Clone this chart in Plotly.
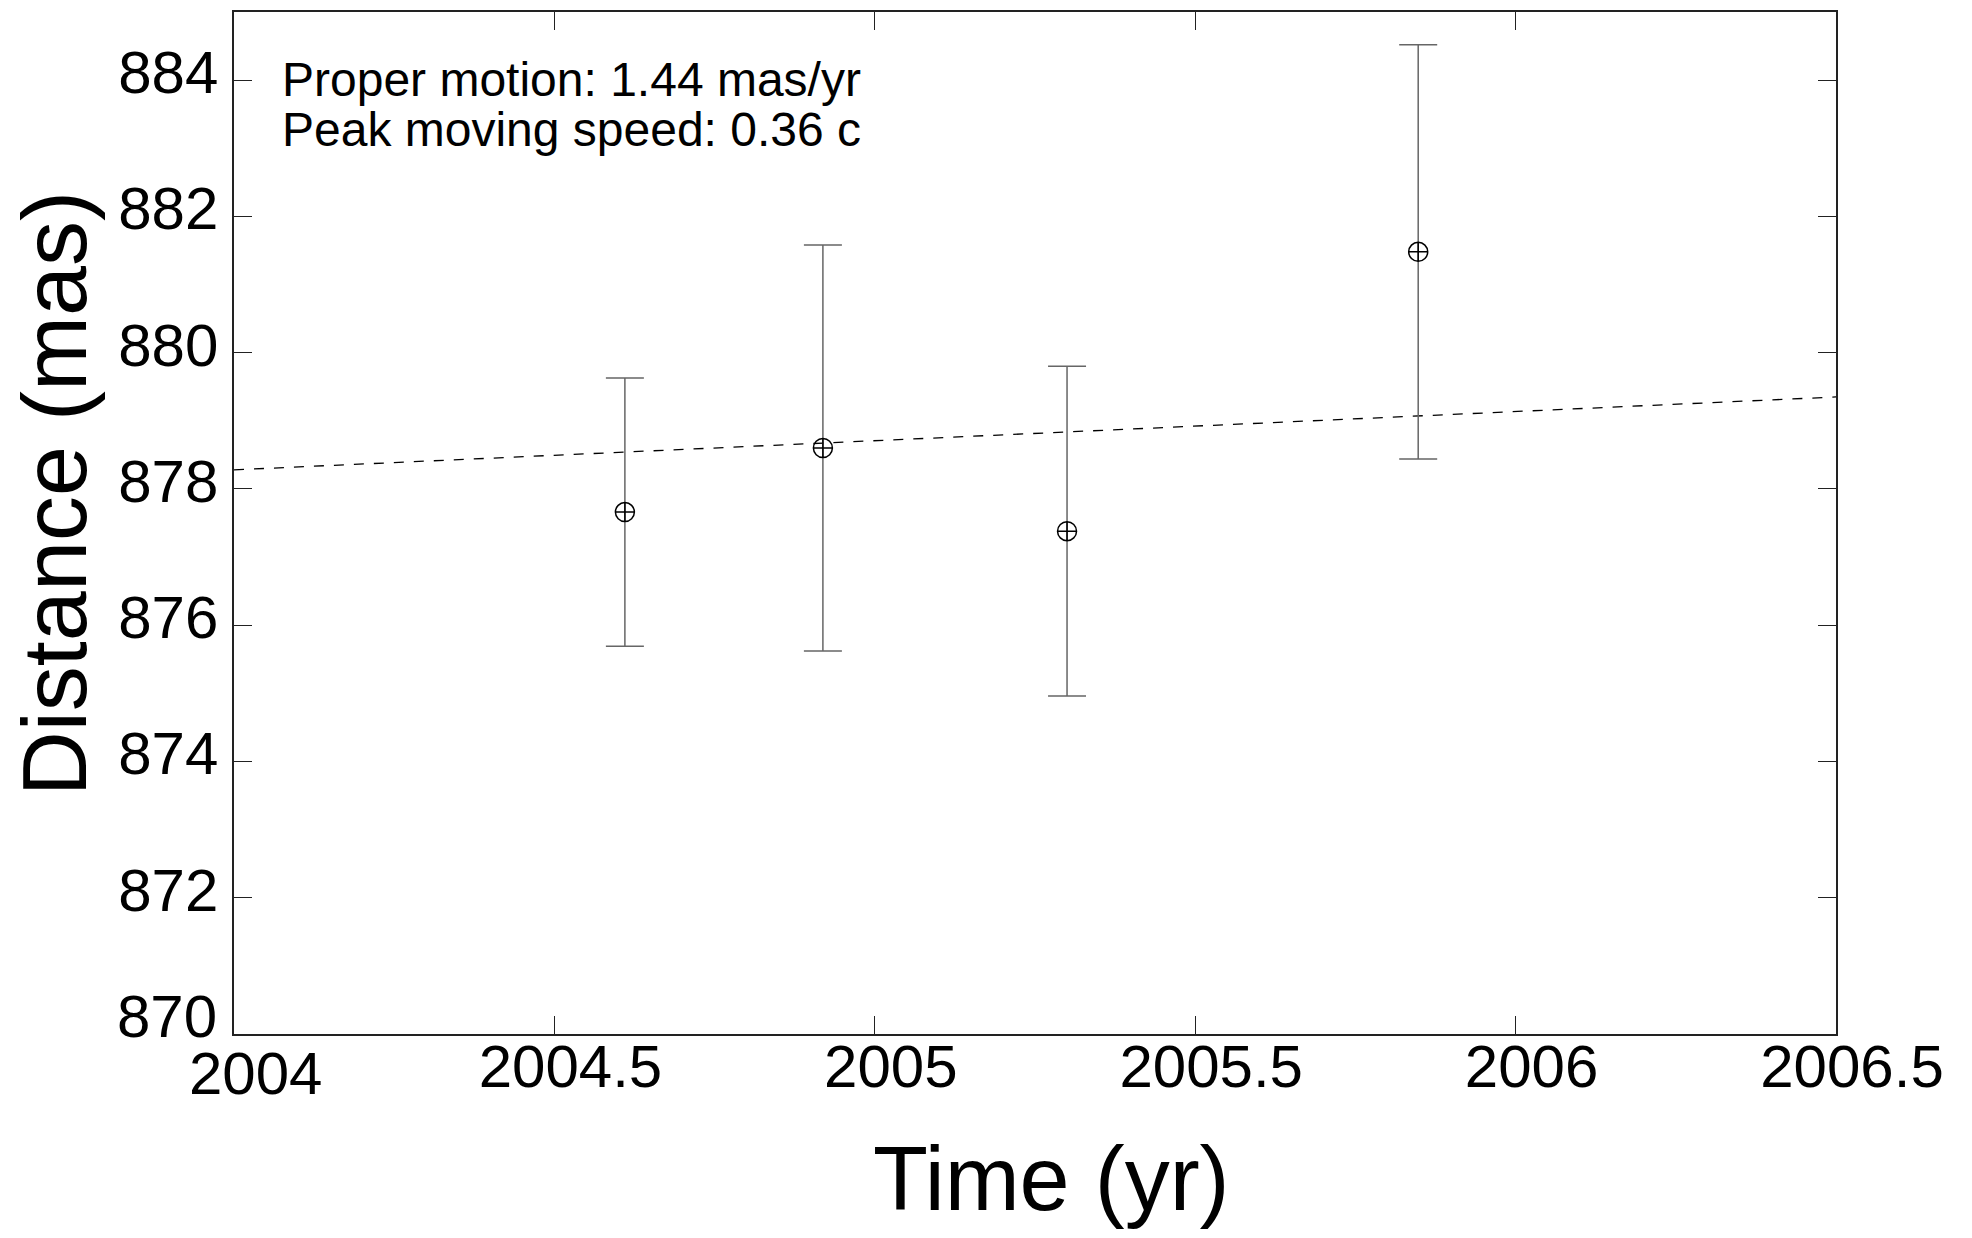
import plotly.graph_objects as go

# Epochs of the observations (decimal years) and measured separations
epochs = [2004.61, 2004.919, 2005.300, 2005.848]
distance_mas = [877.66, 878.60, 877.38, 881.48]
distance_err = [1.97, 2.98, 2.42, 3.04]

# Linear proper-motion fit evaluated at the ends of the time window
fit_epochs = [2004.0, 2006.5]
fit_distance = [878.28, 879.35]

x_ticks = [2004, 2004.5, 2005, 2005.5, 2006, 2006.5]
x_ticktext = ["2004", "2004.5", "2005", "2005.5", "2006", "2006.5"]
y_ticks = [870, 872, 874, 876, 878, 880, 882, 884]
y_ticktext = [str(v) for v in y_ticks]

info_lines = ["Proper motion: 1.44 mas/yr", "Peak moving speed: 0.36 c"]

FONT = "Liberation Sans, Arial, Helvetica, sans-serif"
TICK_FONT = dict(family=FONT, size=60, color="black")

fig = go.Figure()

fig.add_trace(go.Scatter(
    x=fit_epochs, y=fit_distance, mode="lines",
    line=dict(color="black", width=1.3, dash="10px,10px"),
    hoverinfo="skip", showlegend=False,
))

fig.add_trace(go.Scatter(
    x=epochs, y=distance_mas, mode="markers",
    marker=dict(symbol="circle-cross-open", size=19, color="black",
                line=dict(color="black", width=1.5)),
    error_y=dict(type="data", array=distance_err, visible=True,
                 color="#666666", thickness=1.5, width=19),
    showlegend=False,
))

axis_common = dict(
    showline=True, linecolor="#222222", linewidth=1.5, mirror="ticks",
    ticks="inside", ticklen=18, tickwidth=1.3, tickcolor="#222222",
    showgrid=False, zeroline=False, tickfont=TICK_FONT,
)

# The corner labels (first x tick, first y tick) are nudged apart so they
# don't collide; they are drawn as annotations below.
fig.update_xaxes(range=[2004, 2006.5], tickvals=x_ticks,
                 ticktext=[""] + x_ticktext[1:],
                 ticklabelshift=16, ticklabelstandoff=-21, **axis_common)
fig.update_yaxes(range=[870, 885], tickvals=y_ticks,
                 ticktext=[""] + y_ticktext[1:],
                 ticklabelshift=-8, ticklabelstandoff=2, **axis_common)

annotations = [
    dict(text=x_ticktext[0], x=x_ticks[0], y=0, xref="x", yref="paper",
         xanchor="center", yanchor="top", xshift=21, yshift=-4,
         showarrow=False, font=TICK_FONT),
    dict(text=y_ticktext[0], x=0, y=y_ticks[0], xref="paper", yref="y",
         xanchor="right", yanchor="middle", xshift=-15, yshift=18,
         showarrow=False, font=TICK_FONT),
    dict(text="Time (yr)", x=0.5106, y=-0.1416, xref="paper", yref="paper",
         xanchor="center", yanchor="middle", showarrow=False,
         font=dict(family=FONT, size=90, color="black")),
    dict(text="Distance (mas)", x=-0.1117, y=0.5283, xref="paper", yref="paper",
         xanchor="center", yanchor="middle", textangle=-90, showarrow=False,
         font=dict(family=FONT, size=90, color="black")),
]
for i, line in enumerate(info_lines):
    annotations.append(dict(
        text=line, x=0.029, y=0.9337 - 0.0489 * i, xref="paper", yref="paper",
        xanchor="left", yanchor="middle", showarrow=False,
        font=dict(family=FONT, size=48, color="black"),
    ))

fig.update_layout(
    width=1972, height=1238,
    margin=dict(l=234, r=136, t=10, b=204, pad=0),
    paper_bgcolor="white", plot_bgcolor="white",
    annotations=annotations,
)

fig.write_html("out.html")
